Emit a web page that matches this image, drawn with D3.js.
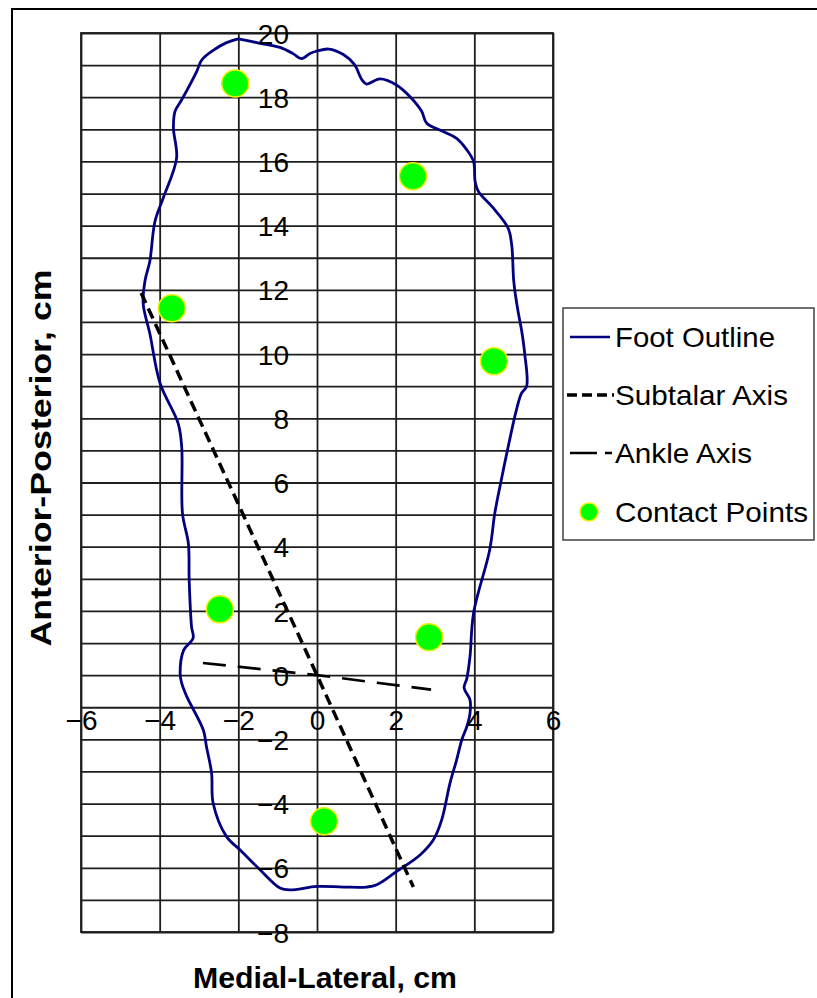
<!DOCTYPE html>
<html>
<head>
<meta charset="utf-8">
<script src="https://cdn.jsdelivr.net/npm/d3@7"></script>
<style>
  html, body { margin: 0; padding: 0; background: #fff; }
  svg { display: block; }
  text { font-family: "Liberation Sans", Arial, sans-serif; fill: #000; }
</style>
</head>
<body>
<svg id="chart" width="817" height="998"></svg>
<script>
// ---------------- DATA ----------------
const xTickValues = [-6, -4, -2, 0, 2, 4, 6];
const yTickValues = [-8, -6, -4, -2, 0, 2, 4, 6, 8, 10, 12, 14, 16, 18, 20];

const footX = [-2.0, -1.45, -0.94, -0.6, -0.4, -0.18, 0.0, 0.3, 0.67, 0.95, 1.14, 1.26, 1.6, 2.02, 2.36, 2.66, 2.79, 3.21, 3.55, 3.81, 3.98, 4.02, 4.1, 4.48, 4.86, 4.95, 5.0, 5.05, 5.12, 5.2, 5.28, 5.33, 5.2, 5.07, 4.86, 4.65, 4.52, 4.39, 3.98, 3.89, 3.81, 3.74, 3.89, 3.89, 3.81, 3.68, 3.55, 3.38, 3.17, 2.96, 2.62, 2.02, 1.52, 1.26, 0.67, 0.0, -0.69, -0.94, -1.45, -1.96, -2.3, -2.64, -2.68, -2.81, -2.89, -3.31, -3.44, -3.48, -3.39, -3.15, -3.19, -3.25, -3.27, -3.42, -3.44, -3.53, -3.99, -4.25, -4.42, -4.37, -4.25, -4.12, -3.91, -3.57, -3.65, -3.61, -3.44, -3.06, -2.93, -2.64, -2.3, -2.0];
const footY = [19.82, 19.68, 19.55, 19.35, 19.2, 19.36, 19.44, 19.5, 19.33, 19.02, 18.55, 18.41, 18.57, 18.38, 18.02, 17.56, 17.19, 16.93, 16.72, 16.36, 16.0, 15.38, 15.07, 14.55, 13.92, 13.4, 12.3, 11.8, 11.27, 10.75, 10.02, 9.0, 8.78, 8.26, 7.11, 5.87, 5.04, 3.9, 1.93, 0.58, -0.1, -0.4, -0.77, -1.19, -1.6, -2.02, -2.64, -3.37, -4.51, -5.13, -5.6, -6.12, -6.53, -6.6, -6.6, -6.58, -6.69, -6.63, -6.06, -5.44, -5.03, -3.99, -3.05, -2.23, -1.71, -0.67, -0.25, 0.06, 0.78, 1.15, 1.51, 2.96, 4.1, 5.04, 7.11, 7.84, 9.09, 10.64, 11.58, 12.3, 12.89, 14.13, 14.86, 16.1, 17.04, 17.56, 17.92, 18.8, 19.16, 19.46, 19.7, 19.82];

const subtalarX = [-4.47, 0, 2.45];
const subtalarY = [11.9, 0, -6.6];

const ankleX = [-2.9, 0, 2.9];
const ankleY = [0.38, 0, -0.45];

const contactX = [-2.08, 2.44, -3.69, 4.5, -2.47, 2.85, 0.18];
const contactY = [18.43, 15.54, 11.43, 9.78, 2.05, 1.18, -4.55];

const seriesNames = ["Foot Outline", "Subtalar Axis", "Ankle Axis", "Contact Points"];
const xTitle = "Medial-Lateral, cm";
const yTitle = "Anterior-Posterior, cm";

// ---------------- CHART ----------------
const svg = d3.select("#chart");

// outer chart frame (only top/left visible)
svg.append("rect").attr("x", 12).attr("y", 9).attr("width", 1000).attr("height", 1200)
  .attr("fill", "#fff").attr("stroke", "#000").attr("stroke-width", 2);

const x = d3.scaleLinear().domain([-6, 6]).range([81, 553]);
const y = d3.scaleLinear().domain([-8, 20]).range([932, 33]);

const gridColor = "#1e1e1e";

// horizontal gridlines every 1 unit
const gy = svg.append("g").attr("transform", `translate(${x(-6)},0)`)
  .call(d3.axisLeft(y).ticks(28).tickSize(-(x(6) - x(-6))).tickFormat(""));
gy.selectAll("line").attr("stroke", gridColor).attr("stroke-width", 1.8);
gy.select(".domain").remove();

// vertical gridlines every 2 units
const gx = svg.append("g").attr("transform", `translate(0,${y(-8)})`)
  .call(d3.axisBottom(x).tickValues(xTickValues).tickSize(-(y(-8) - y(20))).tickFormat(""));
gx.selectAll("line").attr("stroke", gridColor).attr("stroke-width", 1.8);
gx.select(".domain").remove();

// plot border
svg.append("rect").attr("x", x(-6)).attr("y", y(20)).attr("width", x(6) - x(-6)).attr("height", y(-8) - y(20))
  .attr("fill", "none").attr("stroke", gridColor).attr("stroke-width", 1.8);

// series
const line = d3.line().x(d => x(d[0])).y(d => y(d[1]));

const footPts = footX.map((v, i) => [v, footY[i]]);
svg.append("path").datum(footPts)
  .attr("d", line.curve(d3.curveCatmullRom.alpha(0.5)))
  .attr("fill", "none").attr("stroke", "#000080").attr("stroke-width", 2.8)
  .attr("stroke-linejoin", "round");

const lineStraight = d3.line().x(d => x(d[0])).y(d => y(d[1]));
svg.append("path").datum(subtalarX.map((v, i) => [v, subtalarY[i]]))
  .attr("d", lineStraight)
  .attr("fill", "none").attr("stroke", "#000").attr("stroke-width", 3.5)
  .attr("stroke-dasharray", "11,6");

svg.append("path").datum(ankleX.map((v, i) => [v, ankleY[i]]))
  .attr("d", lineStraight)
  .attr("fill", "none").attr("stroke", "#000").attr("stroke-width", 2.6)
  .attr("stroke-dasharray", "23,12");

svg.append("g").selectAll("circle").data(contactX.map((v, i) => [v, contactY[i]]))
  .join("circle")
  .attr("cx", d => x(d[0])).attr("cy", d => y(d[1])).attr("r", 13.5)
  .attr("fill", "#00ff00").attr("stroke", "#f0f000").attr("stroke-width", 1.5);

// tick labels via axes (axes cross at 0)
const yAxis = svg.append("g").attr("transform", `translate(${x(0) - 28},0)`)
  .call(d3.axisLeft(y).tickValues(yTickValues).tickSize(0).tickPadding(0));
yAxis.select(".domain").remove();
yAxis.selectAll("text").attr("font-size", 28).attr("font-family", "Liberation Sans, Arial, sans-serif")
  .attr("fill", "#000").attr("dy", "0.36em").attr("x", 0);

const xAxis = svg.append("g").attr("transform", `translate(0,${y(0) + 45})`)
  .call(d3.axisBottom(x).tickValues(xTickValues).tickSize(0).tickPadding(0));
xAxis.select(".domain").remove();
xAxis.selectAll("text").attr("font-size", 28).attr("font-family", "Liberation Sans, Arial, sans-serif")
  .attr("fill", "#000").attr("dy", "0.36em").attr("y", 0);

// axis titles
svg.append("text").attr("x", 325).attr("y", 988).attr("text-anchor", "middle")
  .attr("font-size", 30).attr("font-weight", "bold")
  .attr("textLength", 264).attr("lengthAdjust", "spacingAndGlyphs").text(xTitle);
svg.append("text").attr("transform", "translate(51,458) rotate(-90)").attr("text-anchor", "middle")
  .attr("font-size", 29).attr("font-weight", "bold")
  .attr("textLength", 377).attr("lengthAdjust", "spacingAndGlyphs").text(yTitle);

// legend
const lg = svg.append("g");
lg.append("rect").attr("x", 563).attr("y", 308).attr("width", 251).attr("height", 232)
  .attr("fill", "#fff").attr("stroke", "#404040").attr("stroke-width", 1.5);
const legY = [337, 395, 453, 512];
const legW = [160, 173, 137, 193];
seriesNames.forEach((name, i) => {
  lg.append("text").attr("x", 615).attr("y", legY[i]).attr("dy", "0.36em")
    .attr("font-size", 28).attr("textLength", legW[i]).attr("lengthAdjust", "spacingAndGlyphs")
    .text(name);
});
lg.append("line").attr("x1", 570).attr("x2", 610).attr("y1", legY[0]).attr("y2", legY[0])
  .attr("stroke", "#000080").attr("stroke-width", 2.6);
lg.append("line").attr("x1", 567).attr("x2", 614).attr("y1", legY[1]).attr("y2", legY[1])
  .attr("stroke", "#000").attr("stroke-width", 3.5).attr("stroke-dasharray", "10,5");
lg.append("line").attr("x1", 570).attr("x2", 612).attr("y1", legY[2]).attr("y2", legY[2])
  .attr("stroke", "#000").attr("stroke-width", 2.6).attr("stroke-dasharray", "27,8");
lg.append("circle").attr("cx", 589).attr("cy", legY[3]).attr("r", 9)
  .attr("fill", "#00ff00").attr("stroke", "#f0f000").attr("stroke-width", 1.5);
</script>
</body>
</html>
